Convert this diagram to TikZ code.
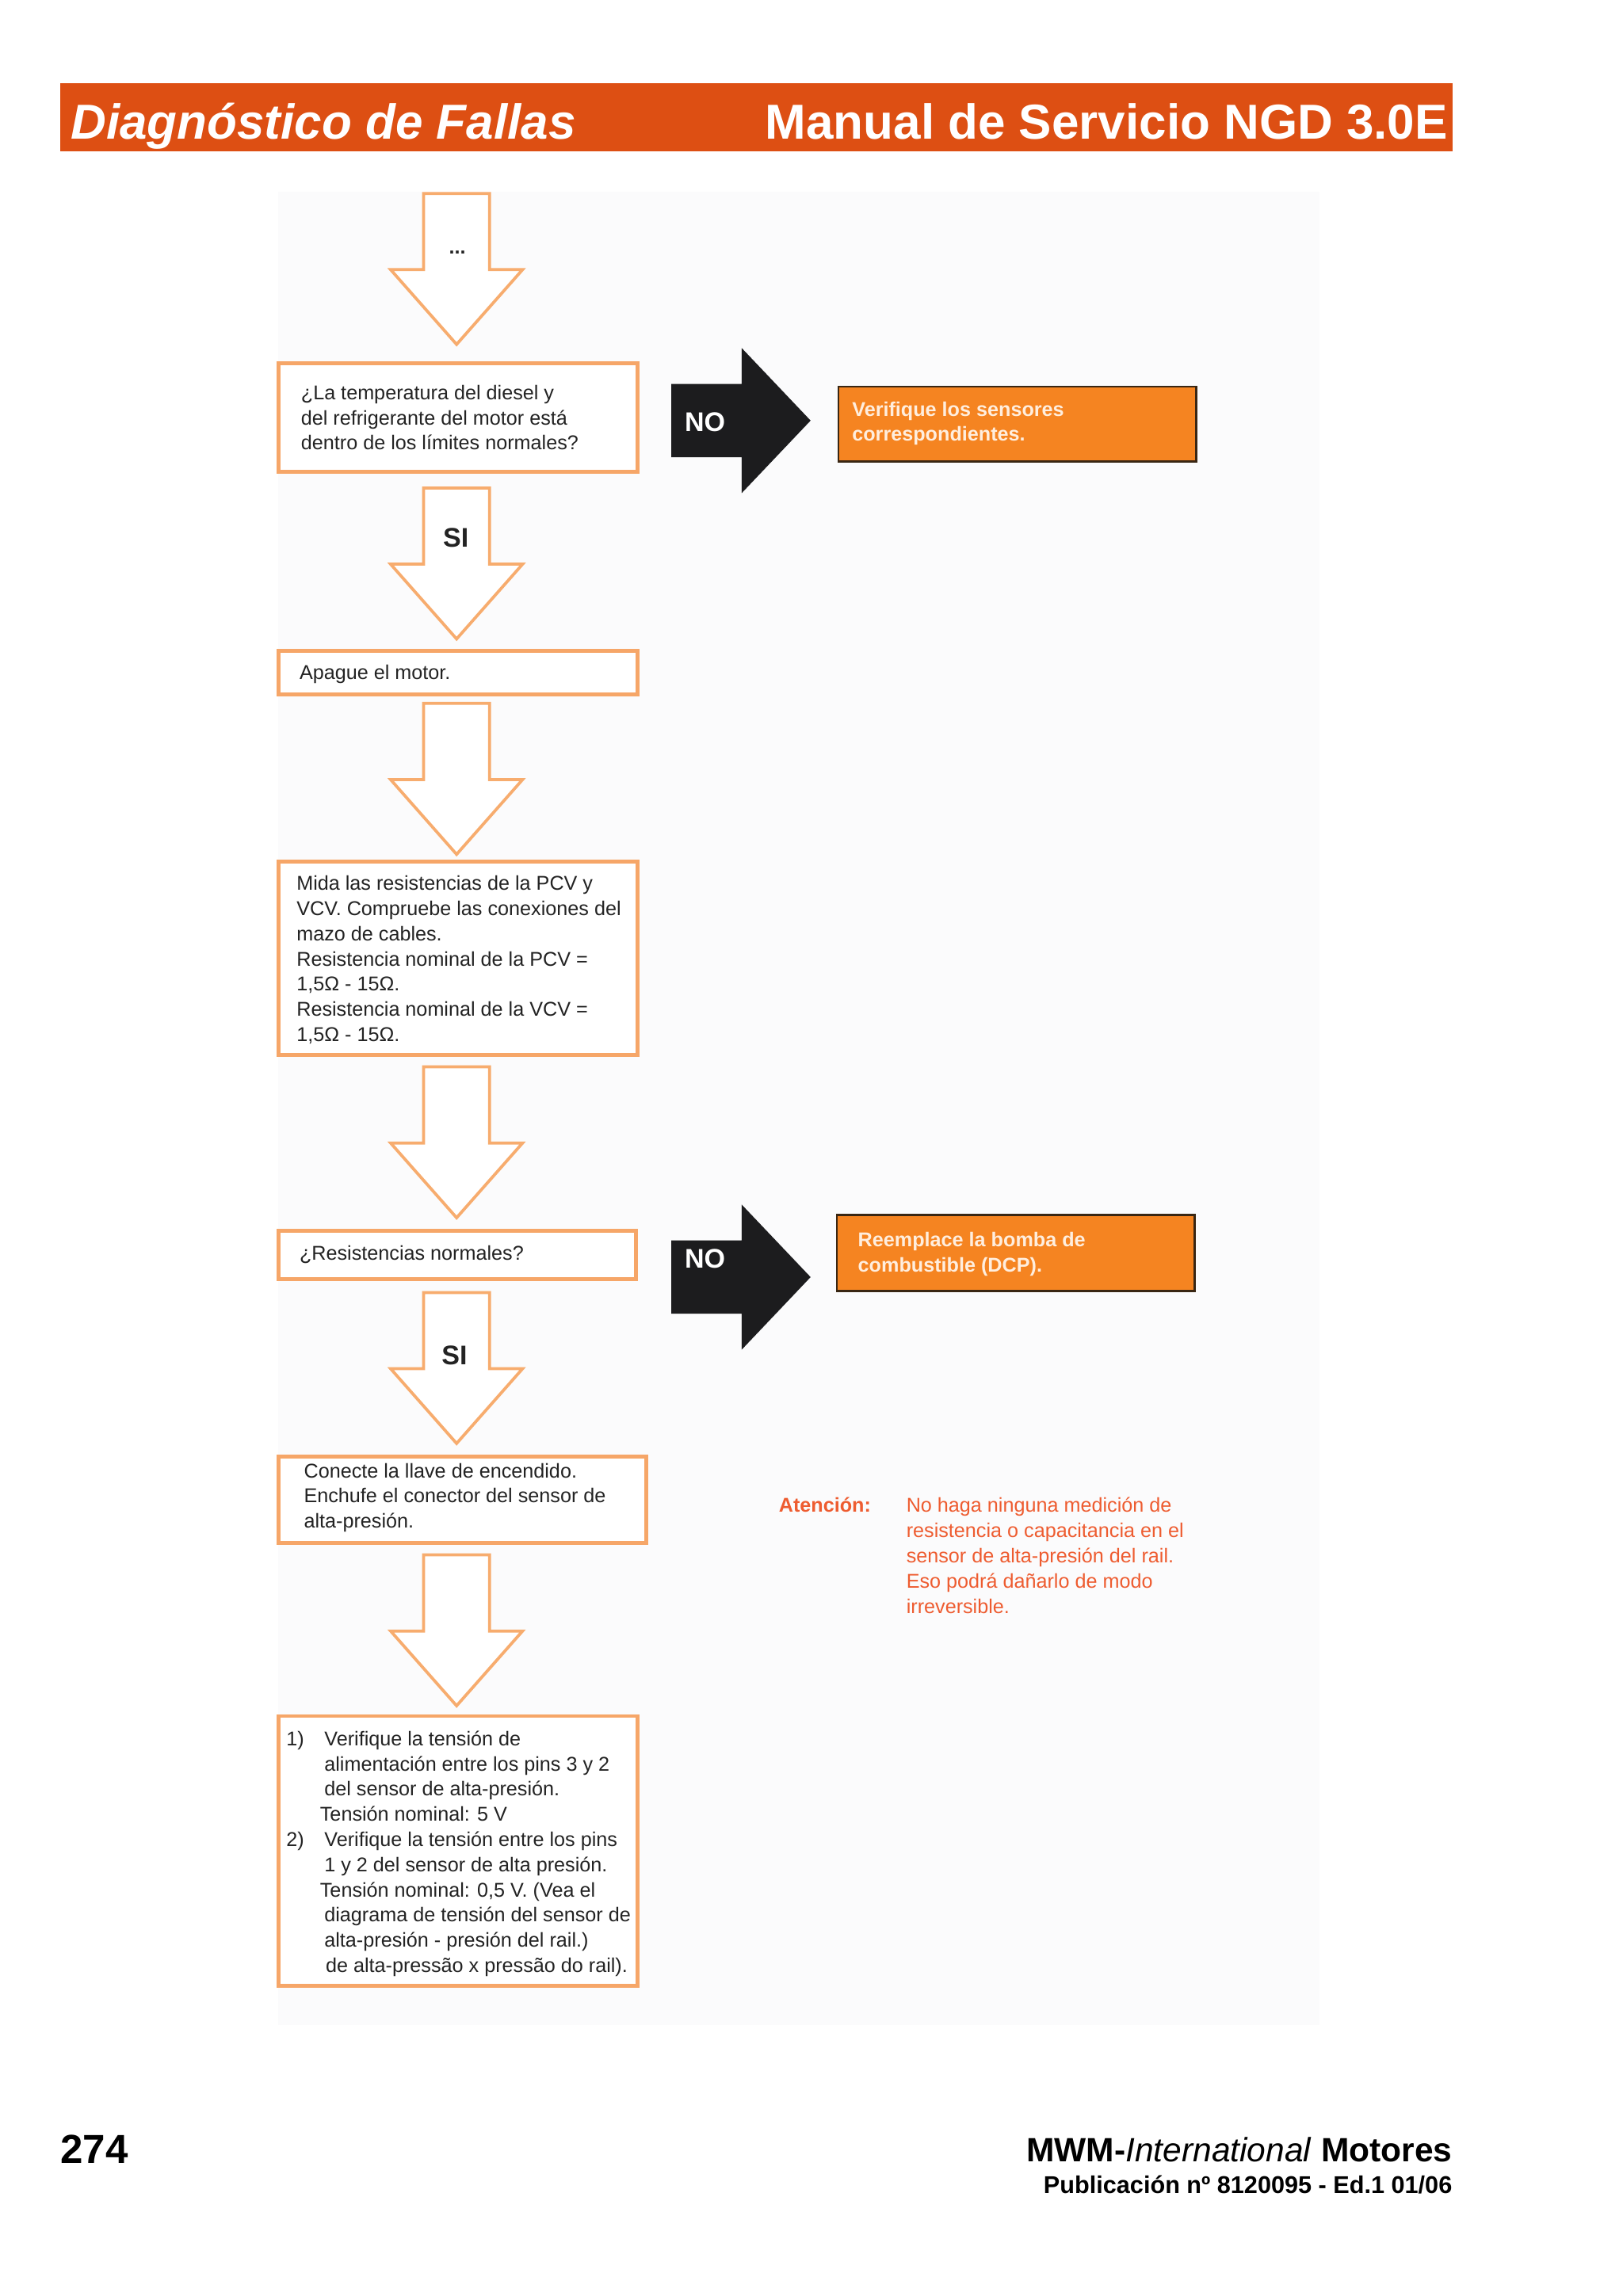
\documentclass[tikz,border=0pt]{standalone}
\usepackage{fontspec}
\setmainfont{Liberation Sans}
\usetikzlibrary{fit}
\definecolor{hdr}{RGB}{221,79,19}
\definecolor{boxor}{RGB}{246,166,104}
\definecolor{arror}{RGB}{247,172,110}
\definecolor{fillor}{RGB}{245,132,33}
\definecolor{warnor}{RGB}{238,92,48}
\definecolor{panel}{RGB}{251,251,252}
\definecolor{arrblk}{RGB}{28,28,30}
\definecolor{paletxt}{RGB}{255,238,222}
\definecolor{bodytxt}{RGB}{35,35,35}
\begin{document}
\begin{tikzpicture}[x=0.018966cm,y=-0.018966cm,
  box/.style={draw=boxor, line width=1.4pt, fill=white, inner sep=0pt},
  obox/.style={draw=black!70!brown, line width=0.7pt, fill=fillor, inner sep=0pt},
  txt/.style={anchor=west, align=left, inner sep=0pt, font=\fontsize{7.35}{9.28}\selectfont, text=bodytxt},
  otxt/.style={anchor=west, align=left, inner sep=0pt, font=\bfseries\fontsize{7.35}{9.28}\selectfont, text=paletxt},
  lbl/.style={inner sep=0pt, font=\bfseries\fontsize{9.93}{12}\selectfont},
  arrline/.style={draw=arror, line width=1.1pt, fill=white, line join=miter},
  downarr/.pic={\path[arrline] (-22.5,0) -- (22.5,0) -- (22.5,52) -- (45,52) -- (0,103) -- (-45,52) -- (-22.5,52) -- cycle;},
  noarr/.pic={\path[fill=arrblk] (0,-25) -- (48,-25) -- (48,-49.5) -- (95,0) -- (48,49.5) -- (48,25) -- (0,25) -- cycle;}
]
\useasboundingbox (0,0) rectangle (1107.2,1566.8);
\fill[white] (0,0) rectangle (1107.2,1566.8);
\fill[panel] (190,131) rectangle (900,1382);

% header
\node[fill=hdr, inner sep=0pt, fit={(41,57) (991,103)}] (hdrbar) {};
\node[anchor=base west, inner sep=0pt, text=white, font=\bfseries\itshape\fontsize{18.08}{20}\selectfont] (hdrl) at (48,95) {Diagnóstico de Fallas};
\node[anchor=base east, inner sep=0pt, text=white, font=\bfseries\fontsize{18.08}{20}\selectfont] (hdrr) at (988,95) {Manual de Servicio NGD 3.0E};

% down arrows
\pic at (311.5,132) {downarr};
\pic at (311.5,333) {downarr};
\pic at (311.5,480) {downarr};
\pic at (311.5,728) {downarr};
\pic at (311.5,882) {downarr};
\pic at (311.5,1061) {downarr};
\node[inner sep=0pt, font=\bfseries\fontsize{7.35}{9}\selectfont, text=bodytxt] (dots) at (312,172) {...};
\node[lbl, text=bodytxt] (si1) at (311,367) {SI};
\node[lbl, text=bodytxt] (si2) at (310,925) {SI};

% boxes
\node[box, fit={(190,248) (435,322)}] (b1) {};
\node[txt] (t1) at (205,285) {¿La temperatura del diesel y\\del refrigerante del motor está\\dentro de los límites normales?};
\node[box, fit={(190,444) (435,474)}] (b2) {};
\node[txt] (t2) at (204,460) {Apague el motor.};
\node[box, fit={(190,588) (435,720)}] (b3) {};
\node[txt] (t3) at (202,655) {Mida las resistencias de la PCV y\\VCV. Compruebe las conexiones del\\mazo de cables.\\Resistencia nominal de la PCV =\\1,5Ω - 15Ω.\\Resistencia nominal de la VCV =\\1,5Ω - 15Ω.};
\node[box, fit={(190,840) (434,873)}] (b4) {};
\node[txt] (t4) at (204,856) {¿Resistencias normales?};
\node[box, fit={(190,994) (441,1053)}] (b5) {};
\node[txt] (t5) at (207,1022) {Conecte la llave de encendido.\\Enchufe el conector del sensor de\\alta-presión.};
\node[box, fit={(190,1171) (435,1355)}] (b6) {};
\node[txt] (t6) at (195,1265) {\makebox[14pt][l]{1)}Verifique la tensión de\\
\hspace*{14pt}alimentación entre los pins 3 y 2\\
\hspace*{14pt}del sensor de alta-presión.\\
\hspace*{12.4pt}Tensión nominal: 5 V\\
\makebox[14pt][l]{2)}Verifique la tensión entre los pins\\
\hspace*{14pt}1 y 2 del sensor de alta presión.\\
\hspace*{12.4pt}Tensión nominal: 0,5 V. (Vea el\\
\hspace*{14pt}diagrama de tensión del sensor de\\
\hspace*{14pt}alta-presión - presión del rail.)\\
\hspace*{14.5pt}de alta-pressão x pressão do rail).};

% NO arrows and results
\pic at (458,287) {noarr};
\node[lbl, text=white] (no1) at (481,288) {NO};
\node[obox, fit={(572,264) (816,315)}] (r1) {};
\node[otxt] (rt1) at (581,289) {Verifique los sensores\\correspondientes.};
\pic at (458,871.5) {noarr};
\node[lbl, text=white] (no2) at (481,859) {NO};
\node[obox, fit={(571,829) (815,881)}] (r2) {};
\node[otxt] (rt2) at (585,856) {Reemplace la bomba de\\combustible (DCP).};

% warning
\node[anchor=west, inner sep=0pt, font=\bfseries\fontsize{7.35}{9.28}\selectfont, text=warnor] (att) at (531,1027) {Atención:};
\node[txt, text=warnor] (attb) at (618,1061.5) {No haga ninguna medición de\\resistencia o capacitancia en el\\sensor de alta-presión del rail.\\Eso podrá dañarlo de modo\\irreversible.};

% footer
\node[anchor=base west, inner sep=0pt, font=\bfseries\fontsize{14.9}{18}\selectfont] (pg) at (41,1476) {274};
\node[anchor=base east, inner sep=0pt, font=\fontsize{12.4}{15}\selectfont] (mwm) at (991,1475) {\textbf{MWM-}\textit{International} \textbf{Motores}};
\node[anchor=base east, inner sep=0pt, font=\bfseries\fontsize{8.94}{11}\selectfont] (pub) at (991,1497) {Publicación nº 8120095 - Ed.1 01/06};
\end{tikzpicture}
\end{document}
